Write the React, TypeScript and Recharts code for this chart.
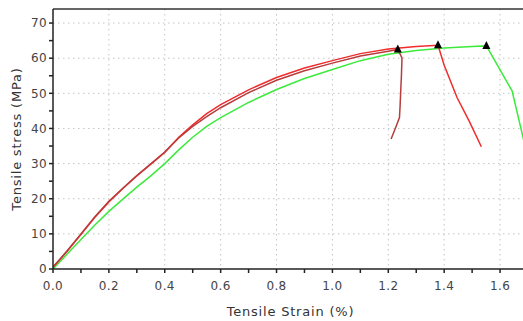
import { LineChart, Line, XAxis, YAxis, CartesianGrid, ReferenceLine } from "recharts";

// specimen 1 (dark red) - breaks at ~1.23 %
const brownStrain = [0, 0.05, 0.1, 0.15, 0.2, 0.25, 0.3, 0.35, 0.4, 0.45, 0.5, 0.55, 0.6, 0.7, 0.8, 0.9, 1.0, 1.1, 1.2, 1.234, 1.249, 1.247, 1.245, 1.242, 1.24, 1.225, 1.21];
const brownStress = [0.5, 5.1, 10, 14.9, 19.3, 23.0, 26.6, 29.9, 33.3, 37.3, 40.6, 43.4, 45.9, 50.2, 53.7, 56.4, 58.6, 60.6, 62.0, 62.5, 60.1, 55, 51.6, 46, 43.1, 40, 37];

// specimen 2 (red) - breaks at ~1.38 %
const redStrain = [0, 0.05, 0.1, 0.15, 0.2, 0.25, 0.3, 0.35, 0.4, 0.45, 0.5, 0.55, 0.6, 0.7, 0.8, 0.9, 1.0, 1.1, 1.2, 1.3, 1.378, 1.40, 1.446, 1.49, 1.533];
const redStress = [0.5, 5, 9.8, 14.7, 19.1, 22.9, 26.5, 29.8, 33.2, 37.5, 41.0, 44.2, 46.8, 51.0, 54.5, 57.2, 59.3, 61.3, 62.6, 63.3, 63.7, 58, 48.8, 42, 34.8];

// specimen 3 (green) - breaks at ~1.55 %
const greenStrain = [0, 0.05, 0.1, 0.15, 0.2, 0.25, 0.3, 0.35, 0.4, 0.45, 0.5, 0.55, 0.6, 0.7, 0.8, 0.9, 1.0, 1.1, 1.2, 1.3, 1.4, 1.5, 1.551, 1.643, 1.685, 1.7];
const greenStress = [0, 4.2, 8.4, 12.5, 16.4, 19.9, 23.3, 26.5, 30.0, 33.9, 37.5, 40.6, 43.1, 47.4, 51.1, 54.2, 56.8, 59.3, 61.1, 62.2, 62.9, 63.3, 63.5, 50.7, 36.5, 31.5];

// break points (triangles)
const peakStrain = [1.234, 1.378, 1.551];
const peakStress = [62.5, 63.7, 63.5];

const xTicks = [0, 0.1, 0.2, 0.3, 0.4, 0.5, 0.6, 0.7, 0.8, 0.9, 1.0, 1.1, 1.2, 1.3, 1.4, 1.5, 1.6, 1.7];
const yTicks = [0, 5, 10, 15, 20, 25, 30, 35, 40, 45, 50, 55, 60, 65, 70];
const xGrid = [0.2, 0.4, 0.6, 0.8, 1.0, 1.2, 1.4, 1.6];
const yGrid = [10, 20, 30, 40, 50, 60, 70];

const zip = (xs: number[], ys: number[]) => xs.map((x, i) => ({ x, y: ys[i] }));

const Triangle = (props: any) => {
  const { cx, cy } = props;
  if (cx == null || cy == null) return null;
  return <polygon points={`${cx},${cy - 5} ${cx - 4},${cy + 3} ${cx + 4},${cy + 3}`} fill="#000" />;
};

export default function App() {
  return (
    <div style={{ position: "absolute", left: 0, top: 0, width: 523, height: 321, overflow: "hidden", background: "#fff", fontFamily: "DejaVu Sans, Verdana, sans-serif" }}>
      <LineChart width={540} height={321} margin={{ top: 9, right: 12, left: 0, bottom: 0 }}>
        <CartesianGrid
          stroke="#c4c4c4"
          strokeDasharray="1.5 3.5"
          horizontalValues={yGrid}
          verticalValues={xGrid}
        />
        <XAxis
          dataKey="x"
          type="number"
          domain={[0, 1.7]}
          ticks={xTicks}
          allowDataOverflow
          height={52}
          tickSize={4}
          tickMargin={8}
          stroke="#222"
          strokeWidth={1.5}
          tick={{ fontSize: 12, fill: "#444", letterSpacing: 0.4 }}
          tickFormatter={(v: number) => (Math.round(v * 10) % 2 === 0 && v < 1.65 ? v.toFixed(1) : "")}
          label={{ value: "Tensile Strain (%)", position: "insideBottom", offset: 5, fontSize: 13, fill: "#333", letterSpacing: 0.8 }}
        />
        <YAxis
          type="number"
          domain={[0, 74]}
          ticks={yTicks}
          allowDataOverflow
          width={53}
          tickSize={4}
          tickMargin={2}
          stroke="#222"
          strokeWidth={1.5}
          tick={{ fontSize: 12, fill: "#444", letterSpacing: 0.4 }}
          tickFormatter={(v: number) => (v % 10 === 0 ? String(v) : "")}
          label={{ value: "Tensile stress (MPa)", angle: -90, position: "insideLeft", offset: 16, fontSize: 13, fill: "#333", letterSpacing: 0.8, style: { textAnchor: "middle" } }}
        />
        <ReferenceLine y={74} stroke="#333" strokeWidth={1.5} />
        <Line data={zip(greenStrain, greenStress)} dataKey="y" type="linear" stroke="#3cea3c" strokeWidth={1.5} dot={false} isAnimationActive={false} />
        <Line data={zip(redStrain, redStress)} dataKey="y" type="linear" stroke="#f02c2c" strokeWidth={1.5} dot={false} isAnimationActive={false} />
        <Line data={zip(brownStrain, brownStress)} dataKey="y" type="linear" stroke="#b83c3c" strokeWidth={1.5} dot={false} isAnimationActive={false} />
        <Line data={zip(peakStrain, peakStress)} dataKey="y" stroke="none" dot={<Triangle />} activeDot={false} isAnimationActive={false} />
      </LineChart>
    </div>
  );
}
